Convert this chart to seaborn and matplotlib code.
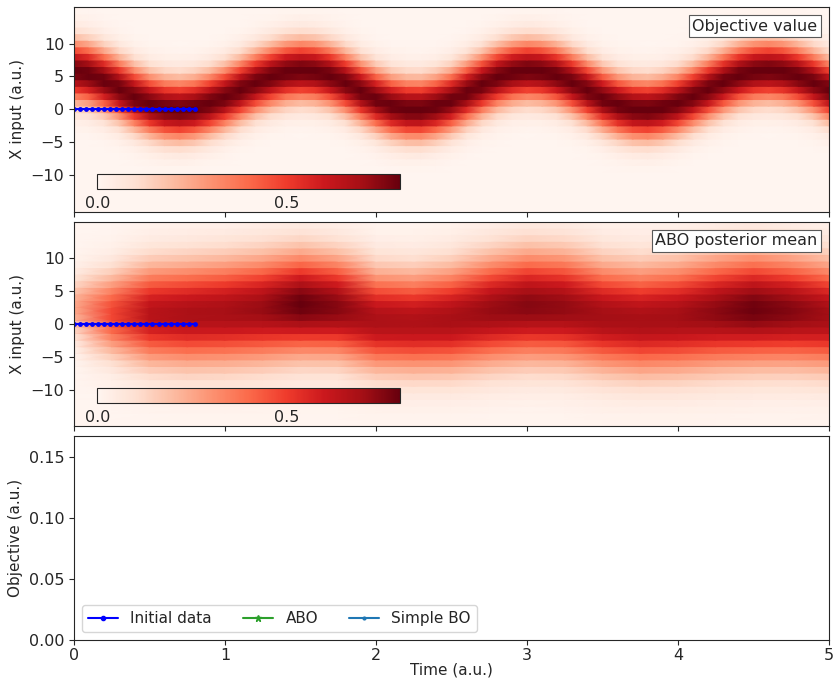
import numpy as np
import matplotlib
matplotlib.use("Agg")
import matplotlib.pyplot as plt
import seaborn as sns
from matplotlib.offsetbox import AnchoredText

# ---------------- data ----------------
x_rows = list(range(-15, 16))            # X input grid (a.u.)

# objective: band centre along time, peak value and band width
obj_t = [0.0, 0.1, 0.2, 0.3, 0.4, 0.5, 0.6, 0.7, 0.8, 0.9,
         1.0, 1.1, 1.2, 1.3, 1.4, 1.5, 1.6, 1.7, 1.8, 1.9,
         2.0, 2.1, 2.2, 2.3, 2.4, 2.5, 2.6, 2.7, 2.8, 2.9,
         3.0, 3.1, 3.2, 3.3, 3.4, 3.5, 3.6, 3.7, 3.8, 3.9,
         4.0, 4.1, 4.2, 4.3, 4.4, 4.5, 4.6, 4.7, 4.8, 4.9, 5.0]
obj_center = [5.9, 5.4, 4.4, 3.2, 1.9, 0.85, 0.2, 0.0, 0.3, 1.0,
              1.9, 3.0, 4.1, 5.0, 5.7, 6.0, 5.8, 5.15, 4.1, 2.8,
              1.6, 0.6, 0.1, 0.05, 0.55, 1.4, 2.6, 3.8, 4.9, 5.65,
              6.0, 5.8, 5.2, 4.15, 2.95, 1.7, 0.75, 0.15, 0.0, 0.35,
              1.05, 2.05, 3.15, 4.25, 5.2, 5.8, 6.0, 5.75, 5.1, 4.15, 3.0]
obj_peak = 0.8
obj_width = 3.0

# ABO posterior mean: centre, amplitude and width along time
post_t = [0.0, 0.25, 0.5, 0.75, 1.0, 1.25, 1.5, 1.75, 2.0, 2.25, 2.5,
          2.75, 3.0, 3.25, 3.5, 3.75, 4.0, 4.25, 4.5, 4.75, 5.0]
post_center = [2.5, 1.5, 1.5, 1.5, 1.8, 2.3, 3.0, 2.5, 0.6, 0.3, 0.8,
               2.0, 2.8, 2.5, 1.2, 0.6, 1.0, 1.8, 2.3, 2.0, 1.3]
post_amp = [0.25, 0.48, 0.65, 0.68, 0.69, 0.72, 0.80, 0.75, 0.68, 0.67, 0.69,
            0.72, 0.75, 0.73, 0.70, 0.69, 0.70, 0.74, 0.79, 0.75, 0.70]
post_width = [3.0, 4.2, 5.0, 5.2, 5.3, 5.3, 5.2, 5.1, 5.0, 5.0, 5.2,
              5.4, 5.5, 5.5, 5.4, 5.4, 5.5, 5.6, 5.6, 5.5, 5.4]

# initial data points
init_t = [0.0, 0.04, 0.08, 0.12, 0.16, 0.2, 0.24, 0.28, 0.32, 0.36, 0.4,
          0.44, 0.48, 0.52, 0.56, 0.6, 0.64, 0.68, 0.72, 0.76, 0.8]
init_x = [0.0, 0.0, 0.0, 0.0, 0.0, 0.0, 0.0, 0.0, 0.0, 0.0, 0.0,
          0.0, 0.0, 0.0, 0.0, 0.0, 0.0, 0.0, 0.0, 0.0, 0.0]

# objective traces (empty at this frame)
init_obj_t, init_obj = [], []
abo_t, abo_obj = [], []
bo_t, bo_obj = [], []

BLUE = "#0000ff"

# ---------------- style ----------------
sns.set_theme(style="ticks")
plt.rcParams.update({
    "font.family": ["DejaVu Sans"],
    "font.size": 11,
    "axes.labelsize": 11,
    "xtick.labelsize": 11.5,
    "ytick.labelsize": 11.5,
    "legend.fontsize": 11,
    "axes.linewidth": 0.8,
    "xtick.major.size": 3.5,
    "ytick.major.size": 3.5,
    "xtick.major.width": 0.8,
    "ytick.major.width": 0.8,
    "xtick.major.pad": 2.0,
})

fig, axes = plt.subplots(3, 1, figsize=(8.33, 6.8), dpi=100, sharex=True)
fig.subplots_adjust(left=0.0888, right=0.9952, top=0.9893, bottom=0.0588,
                    hspace=0.049)

rows = np.asarray(x_rows, dtype=float)
y_edges = np.repeat(rows, 2) + np.tile([-0.5, 0.5], len(rows))


def field(center, amp, width):
    c = np.asarray(center, float)[None, :]
    a = np.asarray(amp, float)
    w = np.asarray(width, float)
    if a.ndim:
        a = a[None, :]
    if w.ndim:
        w = w[None, :]
    return a * np.exp(-(rows[:, None] - c) ** 2 / (2 * w ** 2))


def draw_map(ax, t, vals, title):
    T, Y = np.meshgrid(np.asarray(t, float), y_edges)
    C = np.repeat(vals, 2, axis=0)
    mesh = ax.pcolormesh(T, Y, C, shading="gouraud", cmap="Reds",
                         vmin=0, vmax=0.8, rasterized=True)
    sns.lineplot(x=init_t, y=init_x, ax=ax, color=BLUE, marker=".",
                 markersize=7, markeredgewidth=0, linewidth=1.5)
    ax.set_ylim(-15.5, 15.5)
    ax.set_yticks([-10, -5, 0, 5, 10])
    ax.set_ylabel("X input (a.u.)")
    cax = ax.inset_axes([0.031, 0.11, 0.401, 0.073])
    cb = fig.colorbar(mesh, cax=cax, orientation="horizontal")
    cb.set_ticks([0.0, 0.5])
    cb.ax.tick_params(labelsize=11.5, length=0, pad=5)
    cb.outline.set_linewidth(0.8)
    at = AnchoredText(title, loc="upper right", prop=dict(size=11.5),
                      pad=0.22, borderpad=0.5, frameon=True)
    at.patch.set_boxstyle("square,pad=0")
    at.patch.set_edgecolor("0.35")
    at.patch.set_linewidth(0.8)
    ax.add_artist(at)
    ax.tick_params(labelbottom=False)


draw_map(axes[0], obj_t, field(obj_center, obj_peak, obj_width), "Objective value")
draw_map(axes[1], post_t, field(post_center, post_amp, post_width),
         "ABO posterior mean")

ax = axes[2]
ax.plot(init_obj_t, init_obj, color=BLUE, marker=".", label="Initial data")
ax.plot(abo_t, abo_obj, color="tab:green", marker="*", markersize=5, label="ABO")
ax.plot(bo_t, bo_obj, color="tab:blue", marker=".", markersize=4, label="Simple BO")
ax.set_ylim(0, 0.167)
ax.set_yticks([0.0, 0.05, 0.10, 0.15])
ax.yaxis.set_major_formatter(matplotlib.ticker.FormatStrFormatter("%.2f"))
ax.set_xlim(0, 5)
ax.set_xticks([0, 1, 2, 3, 4, 5])
ax.set_xlabel("Time (a.u.)", labelpad=0)
ax.set_ylabel("Objective (a.u.)")
ax.legend(loc="lower left", ncol=3, frameon=True)

fig.savefig("out.png", dpi=100)
